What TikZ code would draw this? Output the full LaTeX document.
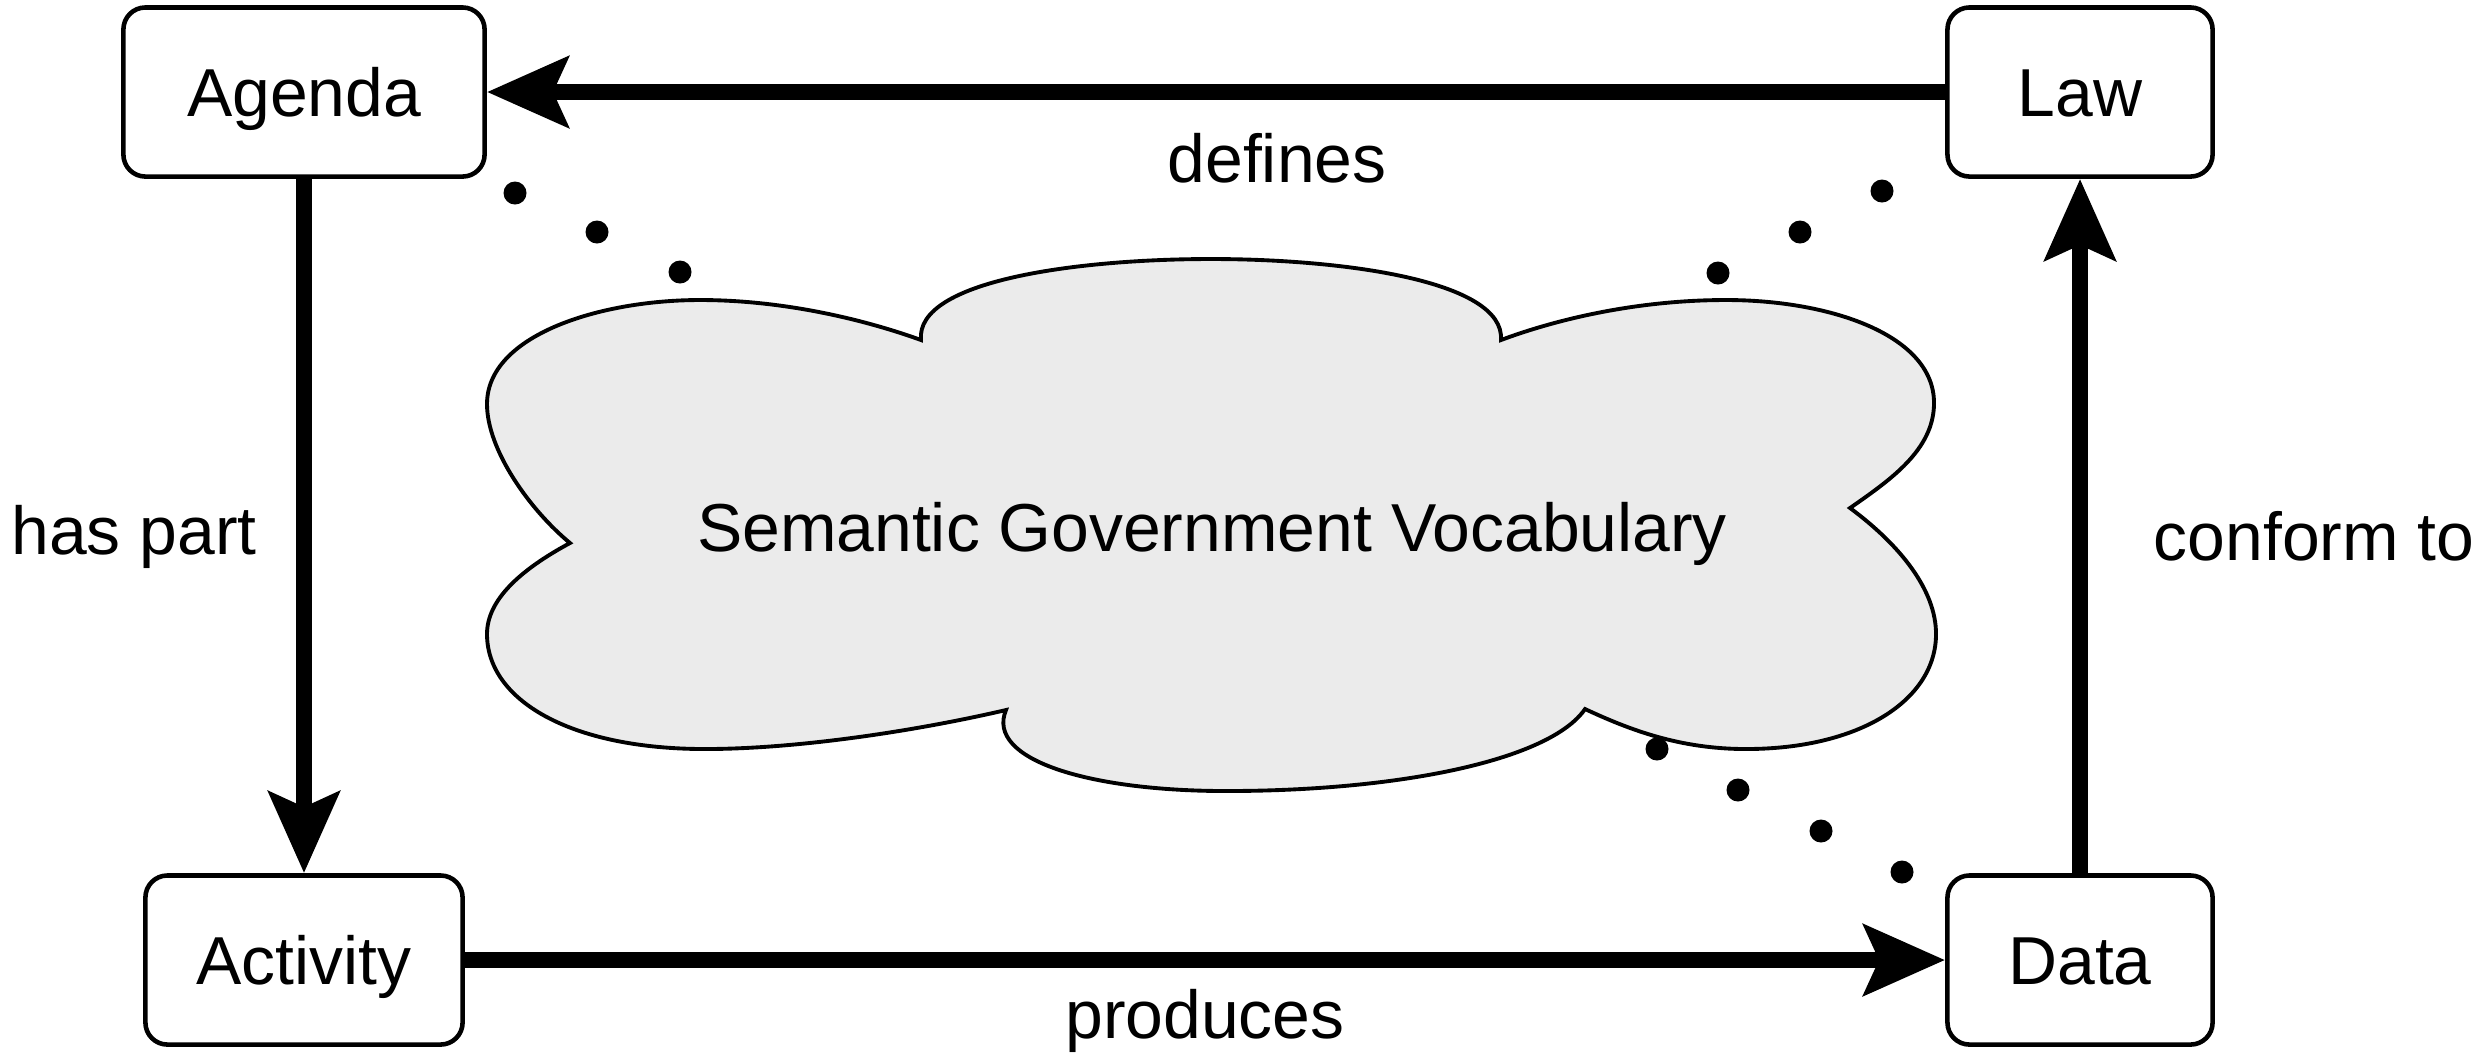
\documentclass[tikz,border=0pt]{standalone}
\usepackage{fontspec}
\setmainfont{Liberation Sans}
\usepackage{tikz}
\usetikzlibrary{arrows.meta,positioning}
\definecolor{cloudgray}{RGB}{235,235,235}
\newcommand{\diagfont}{\fontsize{19.3pt}{23pt}\selectfont}

\begin{document}
\begin{tikzpicture}[
    x=0.01cm, y=-0.01cm,
    box/.style={draw, line width=1.3pt, rounded corners=0.22cm, minimum height=1.69cm,
                text height=0.49cm, text depth=0cm, inner sep=0pt, font=\diagfont},
    lbl/.style={anchor=base, inner sep=0pt, font=\diagfont},
    rel/.style={-{Stealth[length=0.81cm, width=0.7cm, inset=0.15cm]}, line width=4.8pt},
    cloud/.style={draw, line width=1.1pt, fill=cloudgray}
]
    \useasboundingbox (0,0) rectangle (2483,1053);

    % the vocabulary cloud
    \draw[cloud] (570,543)
        .. controls (530,510) and (487,450) .. (487,404)
        .. controls (487,335) and (600,300) .. (700,300)
        .. controls (780,300) and (860,318) .. (921,340)
        .. controls (915,280) and (1080,259) .. (1211,259)
        .. controls (1340,259) and (1505,280) .. (1501,340)
        .. controls (1560,318) and (1640,300) .. (1726,300)
        .. controls (1830,300) and (1934,335) .. (1934,403)
        .. controls (1934,450) and (1890,480) .. (1850,508)
        .. controls (1900,545) and (1936,590) .. (1936,634)
        .. controls (1936,700) and (1860,749) .. (1746,749)
        .. controls (1680,749) and (1630,730) .. (1585,709)
        .. controls (1550,760) and (1400,791) .. (1226,791)
        .. controls (1090,791) and (985,760) .. (1006,710)
        .. controls (920,730) and (800,749) .. (705,749)
        .. controls (570,749) and (487,700) .. (487,634)
        .. controls (487,600) and (520,570) .. (570,543) -- cycle;
    \node[text height=0.49cm, text depth=0cm, inner sep=0pt, font=\diagfont] (vocab) at (1212,527) {Semantic Government Vocabulary};

    % dots between the corners and the cloud
    \foreach \p in {(515,193),(597,232),(680,272),
                    (1882,191),(1800,232),(1718,273),
                    (1657,749),(1738,790),(1821,831),(1902,872)}
        \fill \p circle (0.115cm);

    \node[box, minimum width=3.61cm] (agenda) at (304,92) {Agenda};
    \node[box, minimum width=2.65cm] (law) at (2080,92) {Law};
    \node[box, minimum width=3.17cm] (activity) at (304,960) {Activity};
    \node[box, minimum width=2.65cm] (data) at (2080,960) {Data};

    \draw[rel] (law) -- (agenda);
    \draw[rel] (agenda) -- (activity);
    \draw[rel] (activity) -- (data);
    \draw[rel] (data) -- (law);

    \node[lbl] (defines) at (1277,182) {defines};
    \node[lbl] (haspart) at (134,554) {has part};
    \node[lbl] (conform) at (2314,560) {conform to};
    \node[lbl] (produces) at (1205,1038) {produces};
\end{tikzpicture}
\end{document}
